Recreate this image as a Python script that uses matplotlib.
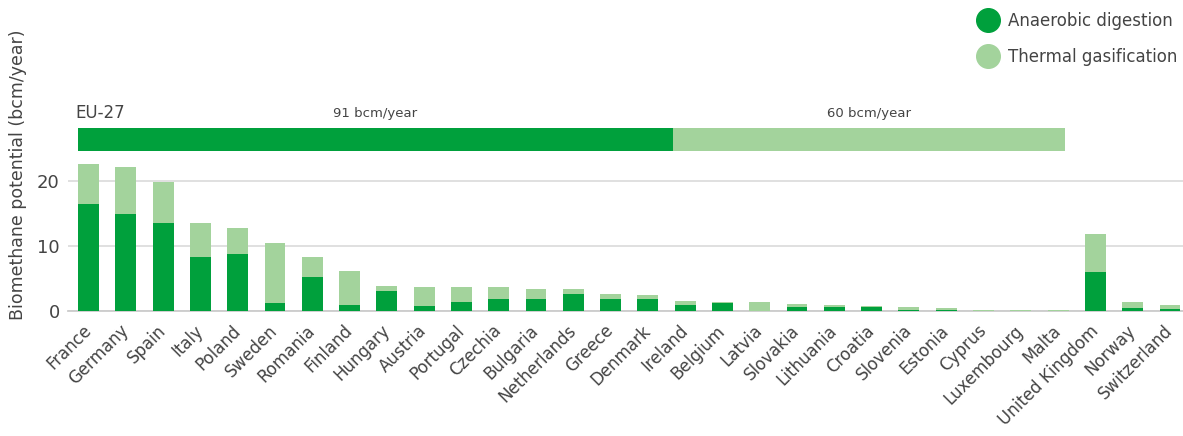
import matplotlib
matplotlib.use("Agg")
import matplotlib.pyplot as plt
from matplotlib.lines import Line2D

countries = ["France", "Germany", "Spain", "Italy", "Poland", "Sweden", "Romania", "Finland",
             "Hungary", "Austria", "Portugal", "Czechia", "Bulgaria", "Netherlands", "Greece",
             "Denmark", "Ireland", "Belgium", "Latvia", "Slovakia", "Lithuania", "Croatia",
             "Slovenia", "Estonia", "Cyprus", "Luxembourg", "Malta", "United Kingdom",
             "Norway", "Switzerland"]
anaerobic = [16.5, 14.9, 13.6, 8.3, 8.8, 1.2, 5.3, 1.0, 3.1, 0.8, 1.5, 1.9, 1.9, 2.7, 1.9,
             1.9, 1.0, 1.3, 0.1, 0.6, 0.7, 0.7, 0.2, 0.15, 0.1, 0.05, 0.1, 6.1, 0.5, 0.35]
thermal = [6.1, 7.3, 6.3, 5.3, 3.9, 9.3, 3.0, 5.2, 0.8, 3.0, 2.2, 1.8, 1.5, 0.7, 0.7,
           0.6, 0.6, 0.2, 1.3, 0.55, 0.3, 0.1, 0.4, 0.3, 0.15, 0.15, 0.05, 5.7, 0.85, 0.65]
eu_values = [91, 60]
eu_labels = ["91 bcm/year", "60 bcm/year"]
yticks = [0, 10, 20]

DARK = "#00a03c"
LIGHT = "#a3d39c"
TXT = "#444444"

plt.rcParams['font.family'] = ['DejaVu Sans']

W, H = 1183, 436
fig = plt.figure(figsize=(W / 100, H / 100), dpi=100)

def px(l, t, r, b):
    return [l / W, (H - b) / H, (r - l) / W, (b - t) / H]

ymax = 24
ax = fig.add_axes(px(68, 311.3 - ymax * 6.52, 1183, 311.3))
x = list(range(len(countries)))
ax.bar(x, anaerobic, width=0.56, color=DARK, zorder=3)
ax.bar(x, thermal, width=0.56, bottom=anaerobic, color=LIGHT, zorder=3)
ax.set_xlim(-0.55, 29.35)
ax.set_ylim(0, ymax)
ax.set_yticks(yticks)
ax.set_yticklabels([str(v) for v in yticks], fontsize=13, color=TXT)
ax.yaxis.grid(True, color="#dddddd", linewidth=1.3, zorder=0)
ax.set_axisbelow(True)
for s in ["top", "right", "left"]:
    ax.spines[s].set_visible(False)
ax.spines["bottom"].set_color("#cccccc")
ax.spines["bottom"].set_linewidth(1.3)
ax.tick_params(axis="y", length=0, pad=6)
ax.set_xticks(x)
ax.set_xticklabels(countries, rotation=45, ha="right", va="center", rotation_mode="anchor",
                   fontsize=12, color=TXT)
ax.tick_params(axis="x", length=0, pad=12)

fig.text(18 / W, (H - 175) / H, "Biomethane potential (bcm/year)", rotation=90,
         ha="center", va="center", fontsize=12.5, color=TXT)

# EU-27 summary bar
ax2 = fig.add_axes(px(78, 128, 1065, 151))
left = 0
for v, lab, c in zip(eu_values, eu_labels, [DARK, LIGHT]):
    ax2.barh(0.5, v, height=1.0, left=left, color=c)
    ax2.text(left + v / 2, 1.65, lab, ha="center", va="center", fontsize=9.5, color=TXT,
             clip_on=False)
    left += v
ax2.set_xlim(0, sum(eu_values))
ax2.set_ylim(0, 1)
ax2.axis("off")
fig.text(75 / W, (H - 113) / H, "EU-27", ha="left", va="center", fontsize=12, color=TXT)

handles = [Line2D([], [], marker="o", linestyle="none", markersize=17, color=DARK),
           Line2D([], [], marker="o", linestyle="none", markersize=17, color=LIGHT)]
fig.legend(handles, ["Anaerobic digestion", "Thermal gasification"], loc="upper left",
           bbox_to_anchor=(976 / W, (H - 12) / H), frameon=False, fontsize=12,
           labelspacing=1.1, handlelength=1.45, handletextpad=0.45, labelcolor=TXT,
           borderaxespad=0, borderpad=0)

fig.savefig("out.png", dpi=100)
